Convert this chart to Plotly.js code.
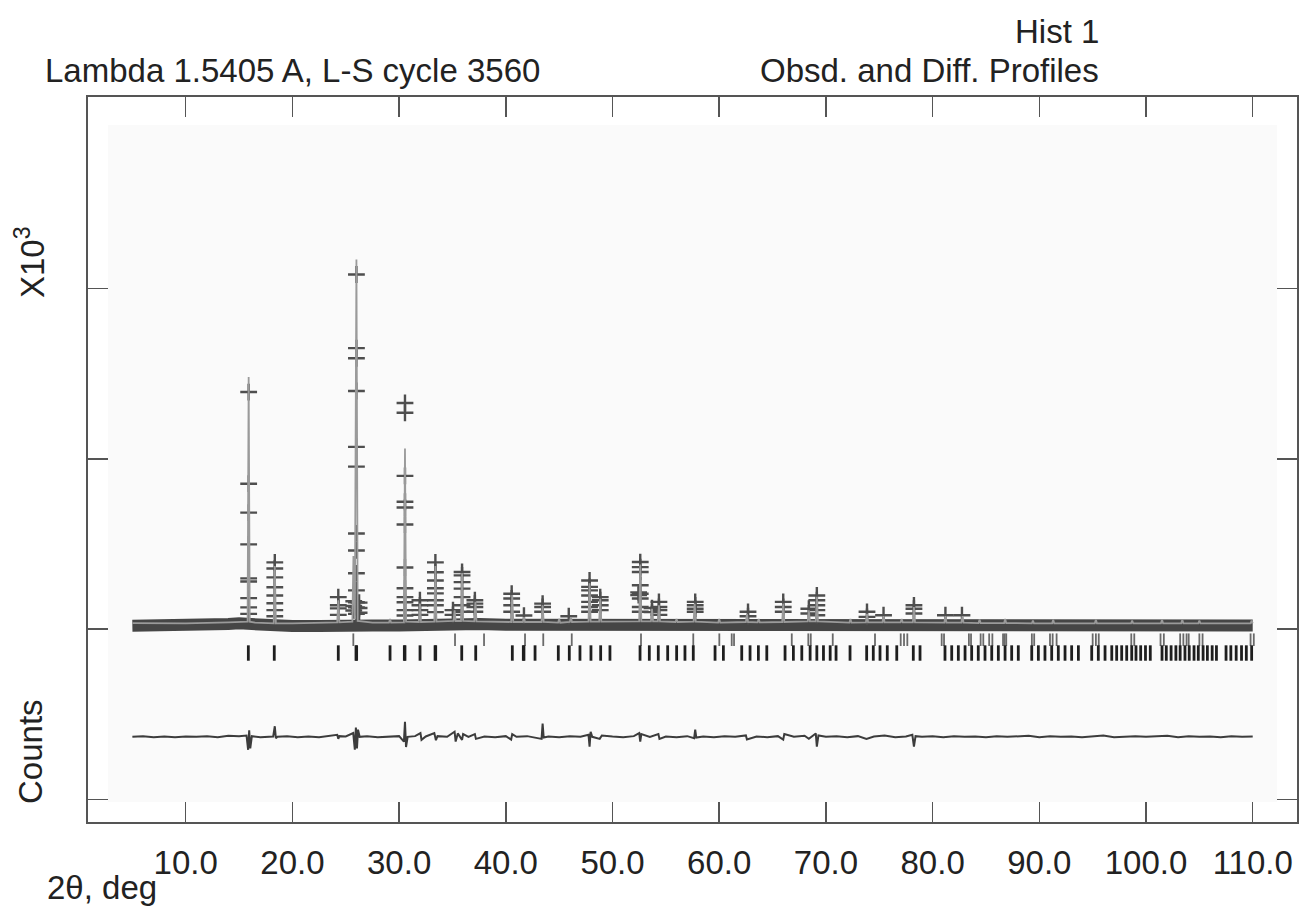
<!DOCTYPE html>
<html>
<head>
<meta charset="utf-8">
<script src="https://cdn.plot.ly/plotly-3.0.1.min.js"></script>
<style>html,body{margin:0;padding:0;background:#fff;}#chart{width:1303px;height:906px;}</style>
</head>
<body>
<div id="chart"></div>
<script>
// ---- background (dense observed band) ----
const bgX = [5, 7.5, 10, 12.5, 14, 15, 16.5, 17.5, 20, 22.5, 25, 27.5, 30, 32.5, 35, 37.5, 40, 42.5, 45, 47.5, 50, 52.5, 55, 57.5, 60, 62.5, 65, 67.5, 70, 72.5, 75, 77.5, 80, 82.5, 85, 87.5, 90, 92.5, 95, 97.5, 100, 102.5, 105, 107.5, 110];
const bgY = [0.10, 0.09, 0.09, 0.11, 0.15, 0.17, 0.13, 0.11, 0.09, 0.09, 0.13, 0.11, 0.11, 0.15, 0.17, 0.15, 0.13, 0.13, 0.11, 0.15, 0.13, 0.15, 0.17, 0.15, 0.11, 0.15, 0.13, 0.17, 0.15, 0.11, 0.13, 0.13, 0.11, 0.13, 0.11, 0.11, 0.09, 0.11, 0.11, 0.11, 0.11, 0.11, 0.11, 0.11, 0.11];

// ---- calculated profile (light grey line) ----
const calcX = [5, 10, 14, 15, 15.8, 15.9, 16.0, 16.5, 18.25, 18.35, 18.45, 20, 24.2, 24.3, 24.4, 25.62, 25.72, 25.85, 26.0, 26.12, 27.5, 29.05, 29.15, 29.25, 30.45, 30.55, 30.65, 31.85, 31.95, 32.05, 33.3, 33.4, 33.5, 35.1, 35.2, 35.3, 35.8, 35.9, 36.0, 37.05, 37.15, 37.25, 40.5, 40.6, 40.7, 41.6, 41.7, 41.8, 43.35, 43.45, 43.55, 44.9, 45.0, 45.1, 46.0, 46.1, 46.2, 47.75, 47.85, 47.95, 48.75, 48.85, 48.95, 52.5, 52.6, 52.7, 53.6, 53.7, 53.8, 54.25, 54.35, 54.45, 55.9, 56.0, 56.1, 57.6, 57.7, 57.8, 59.9, 60.0, 60.1, 62.5, 62.6, 62.7, 63.6, 63.7, 63.8, 65.9, 66.0, 66.1, 68.3, 68.4, 68.5, 69.05, 69.15, 69.25, 72.2, 72.3, 72.4, 73.75, 73.85, 73.95, 75.3, 75.4, 75.5, 77.0, 77.1, 77.2, 78.15, 78.25, 78.35, 81.1, 81.2, 81.3, 82.7, 82.8, 82.9, 84.3, 84.4, 84.5, 86.7, 86.8, 86.9, 89.3, 89.4, 89.5, 91.2, 91.3, 91.4, 95.2, 95.3, 95.4, 98.6, 98.7, 98.8, 101.4, 101.5, 101.6, 103.3, 103.4, 103.5, 104.9, 105.0, 105.1, 109.8, 109.9, 110];
const calcY = [0.18, 0.17, 0.20, 0.22, 0.22, 7.40, 0.22, 0.19, 0.17, 1.85, 0.17, 0.17, 0.20, 0.85, 0.20, 0.22, 2.15, 0.30, 10.85, 0.24, 0.19, 0.19, 0.30, 0.19, 0.20, 5.30, 0.22, 0.21, 0.75, 0.21, 0.22, 1.85, 0.22, 0.24, 0.55, 0.24, 0.24, 1.65, 0.24, 0.23, 0.80, 0.23, 0.21, 1.00, 0.21, 0.21, 0.35, 0.21, 0.21, 0.70, 0.21, 0.19, 0.30, 0.19, 0.21, 0.35, 0.21, 0.22, 1.35, 0.22, 0.22, 0.90, 0.22, 0.23, 1.90, 0.23, 0.23, 0.60, 0.23, 0.23, 0.70, 0.23, 0.21, 0.30, 0.21, 0.22, 0.75, 0.22, 0.19, 0.30, 0.19, 0.21, 0.45, 0.21, 0.20, 0.30, 0.20, 0.21, 0.75, 0.21, 0.23, 0.55, 0.23, 0.23, 0.95, 0.23, 0.19, 0.30, 0.19, 0.20, 0.45, 0.20, 0.20, 0.38, 0.20, 0.20, 0.30, 0.20, 0.20, 0.65, 0.20, 0.19, 0.38, 0.19, 0.19, 0.38, 0.19, 0.18, 0.28, 0.18, 0.18, 0.30, 0.18, 0.17, 0.25, 0.17, 0.17, 0.28, 0.17, 0.17, 0.28, 0.17, 0.17, 0.25, 0.17, 0.17, 0.28, 0.17, 0.17, 0.28, 0.17, 0.17, 0.25, 0.17, 0.17, 0.25, 0.17];

// ---- observed points on peaks (+ marks) ----
const obsX = [15.9, 15.9, 15.9, 15.9, 15.9, 15.9, 15.9, 15.9, 15.9,
  18.35, 18.35, 18.35, 18.35, 18.35, 18.35, 18.35, 18.35,
  24.3, 24.3, 24.3, 24.3,
  25.75, 25.75, 25.75,
  26.0, 26.0, 26.0, 26.0, 26.0, 26.0, 26.0, 26.0, 26.0, 26.0, 26.0, 26.0, 26.0,
  26.25, 26.25, 26.25,
  30.55, 30.55, 30.55, 30.55, 30.55, 30.55, 30.55, 30.55, 30.55, 30.55, 30.55, 30.55,
  31.95, 31.95, 31.95, 31.95,
  33.4, 33.4, 33.4, 33.4, 33.4, 33.4, 33.4, 33.4,
  35.05, 35.05,
  35.9, 35.9, 35.9, 35.9, 35.9, 35.9, 35.9,
  37.1, 37.1, 37.1, 37.1,
  40.55, 40.55, 40.55, 40.55,
  41.7,
  43.45, 43.45, 43.45,
  45.9,
  47.85, 47.85, 47.85, 47.85, 47.85, 47.85, 47.85,
  48.85, 48.85, 48.85, 48.85,
  52.6, 52.6, 52.6, 52.6, 52.6, 52.6, 52.6, 52.6,
  52.45, 52.45,
  53.7, 53.7,
  54.35, 54.35, 54.35, 54.35,
  57.75, 57.75, 57.75, 57.75,
  62.7, 62.7,
  66.0, 66.0, 66.0,
  68.4, 68.4,
  69.15, 69.15, 69.15, 69.15, 69.15,
  73.85, 73.85,
  75.4,
  78.25, 78.25, 78.25,
  81.2,
  82.75];
const obsY = [6.96, 4.27, 3.42, 2.49, 1.49, 1.40, 0.91, 0.64, 0.45,
  1.96, 1.78, 1.52, 1.23, 0.99, 0.76, 0.56, 0.38,
  0.94, 0.70, 0.61, 0.42,
  0.82, 0.68, 0.55,
  10.41, 8.25, 7.95, 6.99, 5.35, 4.77, 2.81, 2.31, 1.64, 1.14, 0.79, 0.64, 0.45,
  0.78, 0.62, 0.48,
  6.64, 6.35, 4.50, 3.74, 3.57, 3.07, 1.81, 1.20, 0.94, 0.79, 0.56, 0.40,
  0.85, 0.70, 0.56, 0.42,
  1.96, 1.67, 1.43, 1.20, 1.05, 0.85, 0.70, 0.50,
  0.56, 0.42,
  1.68, 1.58, 1.38, 1.19, 0.94, 0.70, 0.51,
  0.85, 0.75, 0.65, 0.51,
  1.04, 0.90, 0.70, 0.51,
  0.40,
  0.75, 0.65, 0.51,
  0.38,
  1.43, 1.24, 1.14, 0.99, 0.80, 0.65, 0.51,
  0.94, 0.85, 0.70, 0.56,
  1.97, 1.82, 1.68, 1.29, 1.04, 0.90, 0.65, 0.51,
  1.08, 1.00,
  0.62, 0.50,
  0.80, 0.65, 0.56, 0.42,
  0.80, 0.70, 0.60, 0.51,
  0.51, 0.38,
  0.80, 0.65, 0.51,
  0.60, 0.46,
  0.99, 0.85, 0.70, 0.56, 0.41,
  0.51, 0.36,
  0.41,
  0.70, 0.60, 0.46,
  0.41,
  0.41];

// ---- difference curve ----
const diffX = [5, 6, 7, 8, 9, 10, 11, 12, 13, 14, 15, 15.7, 15.85, 15.95, 16.05, 16.2, 17, 18.2, 18.35, 18.45, 18.6, 19.5, 20.5, 21.5, 22.5, 23.5, 24.2, 24.3, 24.4, 25, 25.7, 25.85, 25.95, 26.05, 26.15, 26.3, 27, 28, 29, 30, 30.45, 30.55, 30.65, 30.8, 31.5, 32, 32.1, 32.5, 33.3, 33.45, 33.6, 34.5, 35.2, 35.3, 35.5, 35.9, 36.0, 36.5, 37.1, 37.2, 38, 39, 40, 40.5, 40.6, 41, 42, 43.35, 43.45, 43.55, 44, 45, 46, 47, 47.75, 47.85, 47.95, 48.1, 48.8, 49, 50, 51, 52, 52.5, 52.6, 52.7, 53.5, 54.3, 54.4, 55, 56, 57, 57.65, 57.75, 57.85, 58.5, 59.5, 60.5, 61.5, 62.5, 62.6, 63.5, 64.5, 65.5, 66, 66.1, 67, 68, 68.4, 69.05, 69.15, 69.3, 70, 71, 72, 73, 73.8, 74.5, 75.5, 76.5, 77.5, 78.1, 78.25, 78.4, 79, 80, 81, 82, 83, 84, 85, 86, 87, 88, 89, 90, 91, 92, 93, 94, 95, 96, 97, 98, 99, 100, 101, 102, 103, 104, 105, 106, 107, 108, 109, 110];
const diffY = [-3.16, -3.14, -3.17, -3.15, -3.17, -3.15, -3.16, -3.14, -3.17, -3.13, -3.14, -3.12, -3.54, -2.97, -3.50, -3.14, -3.17, -3.15, -2.85, -3.20, -3.16, -3.14, -3.17, -3.15, -3.17, -3.14, -3.10, -3.22, -3.14, -3.15, -3.05, -3.54, -2.89, -3.50, -2.95, -3.16, -3.14, -3.17, -3.15, -3.14, -3.30, -2.72, -3.46, -3.16, -3.14, -3.05, -3.25, -3.15, -3.05, -3.26, -3.14, -3.16, -3.01, -3.30, -3.06, -3.25, -3.08, -3.16, -3.08, -3.22, -3.15, -3.17, -3.14, -3.24, -3.08, -3.16, -3.14, -3.22, -2.77, -3.18, -3.15, -3.17, -3.14, -3.16, -3.10, -3.45, -3.01, -3.16, -3.22, -3.12, -3.15, -3.17, -3.14, -3.05, -3.30, -3.08, -3.16, -3.08, -3.22, -3.15, -3.17, -3.14, -3.20, -2.95, -3.18, -3.15, -3.17, -3.14, -3.16, -3.12, -3.24, -3.15, -3.17, -3.14, -3.24, -3.08, -3.16, -3.13, -3.22, -3.06, -3.45, -3.12, -3.16, -3.14, -3.17, -3.14, -3.22, -3.15, -3.12, -3.17, -3.15, -3.10, -3.45, -3.14, -3.16, -3.14, -3.17, -3.14, -3.16, -3.15, -3.17, -3.14, -3.16, -3.15, -3.13, -3.17, -3.14, -3.16, -3.15, -3.17, -3.14, -3.12, -3.17, -3.15, -3.14, -3.16, -3.15, -3.13, -3.17, -3.14, -3.16, -3.15, -3.17, -3.14, -3.16, -3.15];

// ---- reflection markers ----
const phase1Ticks = [15.87, 18.30, 24.30, 25.96, 26.02, 29.15, 30.49, 30.55, 31.96, 33.37, 33.43, 35.87, 37.18, 40.61, 41.64, 41.70, 42.74, 44.92, 45.95, 46.95, 47.98, 48.89, 49.76, 52.58, 53.45, 54.29, 55.17, 56.01, 56.79, 57.57, 59.61, 60.39, 62.11, 62.89, 63.67, 64.46, 66.17, 66.95, 67.74, 68.52, 69.15, 69.77, 70.40, 70.95, 72.26, 73.82, 74.44, 75.07, 75.75, 76.64, 78.19, 78.82, 81.16, 81.79, 82.41, 83.04, 83.66, 84.28, 84.91, 85.54, 86.16, 86.79, 87.41, 88.03, 89.29, 89.91, 90.53, 91.16, 91.78, 92.41, 93.03, 93.66, 94.91, 95.53, 96.16, 96.79, 97.25, 97.72, 98.19, 98.66, 99.06, 99.50, 99.95, 100.40, 101.50, 101.90, 102.35, 102.80, 103.20, 103.65, 104.05, 104.50, 104.90, 105.35, 105.75, 106.20, 106.60, 107.50, 107.95, 108.45, 108.95, 109.40, 109.90];
const phase2Ticks = [25.71, 35.24, 37.96, 41.80, 43.51, 46.18, 52.67, 57.57, 60.01, 61.17, 61.39, 66.80, 68.35, 68.58, 70.64, 74.60, 77.01, 77.32, 77.63, 80.85, 81.07, 83.40, 83.60, 84.50, 84.75, 85.30, 85.60, 86.60, 86.75, 86.90, 89.30, 89.52, 91.00, 91.25, 91.62, 95.00, 95.30, 95.57, 98.62, 98.90, 101.36, 101.67, 103.20, 103.50, 103.80, 104.00, 105.00, 105.30, 109.80, 110.10];
const phase1Level = -0.70;
const phase2Level = -0.31;

// ---- axis ticks ----
const xTickVals = [10, 20, 30, 40, 50, 60, 70, 80, 90, 100, 110];
const xTickText = ['10.0', '20.0', '30.0', '40.0', '50.0', '60.0', '70.0', '80.0', '90.0', '100.0', '110.0'];
const yTickVals = [-5, 0, 5, 10];

const traces = [
  {x: bgX, y: bgY, mode: 'lines', line: {color: '#464646', width: 12}, hoverinfo: 'skip', showlegend: false},
  {x: obsX, y: obsY, mode: 'markers', marker: {symbol: 'cross-thin', size: 12, color: '#4e4e4e', line: {color: '#4e4e4e', width: 2.4}}, showlegend: false},
  {x: calcX, y: calcY, mode: 'lines', line: {color: '#9a9a9a', width: 1.8}, showlegend: false},
  {x: phase2Ticks, y: phase2Ticks.map(() => phase2Level), mode: 'markers', marker: {symbol: 'line-ns', size: 9, line: {color: '#6a6a6a', width: 1.8}}, showlegend: false},
  {x: phase1Ticks, y: phase1Ticks.map(() => phase1Level), mode: 'markers', marker: {symbol: 'line-ns', size: 11, line: {color: '#1e1e1e', width: 2.8}}, showlegend: false},
  {x: diffX, y: diffY, mode: 'lines', line: {color: '#3c3c3c', width: 2}, showlegend: false}
];

const W = 1303, H = 906, L = 88, R = 6, T = 97, B = 84;
const pw = W - L - R, ph = H - T - B;
const px = v => (v - L) / pw;
const py = v => (H - B - v) / ph;
const font = {family: 'Liberation Sans, Arial, sans-serif', size: 33, color: '#222'};

const layout = {
  width: W, height: H,
  margin: {l: L, r: R, t: T, b: B},
  paper_bgcolor: '#ffffff', plot_bgcolor: '#ffffff',
  showlegend: false,
  font: font,
  title: {text: 'Lambda 1.5405 A, L-S cycle 3560', font: font, x: 45 / W, xref: 'container', xanchor: 'left', y: 1 - 70 / H, yref: 'container', yanchor: 'middle'},
  xaxis: {
    range: [0.843, 114.15], tickvals: xTickVals, ticktext: xTickText,
    ticks: 'inside', ticklen: 20, tickwidth: 1.5, tickcolor: '#555',
    showline: true, linecolor: '#555', linewidth: 2, mirror: 'ticks',
    showgrid: false, zeroline: false, tickfont: font, ticklabelstandoff: 10
  },
  yaxis: {
    range: [-5.66, 15.62], tickvals: yTickVals, showticklabels: false,
    ticks: 'inside', ticklen: 20, tickwidth: 1.5, tickcolor: '#555',
    showline: true, linecolor: '#555', linewidth: 2, mirror: 'ticks',
    showgrid: false, zeroline: false
  },
  shapes: [
    {type: 'rect', xref: 'paper', yref: 'paper', x0: px(108), x1: px(1277), y0: py(802), y1: py(125), fillcolor: '#fafafa', line: {width: 0}, layer: 'below'}
  ],
  annotations: [
    {text: 'Hist 1', xref: 'paper', yref: 'paper', x: px(1101), y: py(31), xanchor: 'right', yanchor: 'middle', showarrow: false, font: font},
    {text: 'Obsd. and Diff. Profiles', xref: 'paper', yref: 'paper', x: px(1101), y: py(70), xanchor: 'right', yanchor: 'middle', showarrow: false, font: font},
    {text: 'X10<sup>3</sup>', xref: 'paper', yref: 'paper', x: px(30), y: py(262), xanchor: 'center', yanchor: 'middle', textangle: -90, showarrow: false, font: font},
    {text: 'Counts', xref: 'paper', yref: 'paper', x: px(30), y: py(752), xanchor: 'center', yanchor: 'middle', textangle: -90, showarrow: false, font: font},
    {text: '2\u03b8, deg', xref: 'paper', yref: 'paper', x: px(45), y: py(887), xanchor: 'left', yanchor: 'middle', showarrow: false, font: font}
  ]
};

Plotly.newPlot('chart', traces, layout, {staticPlot: true, displayModeBar: false});
</script>
</body>
</html>
